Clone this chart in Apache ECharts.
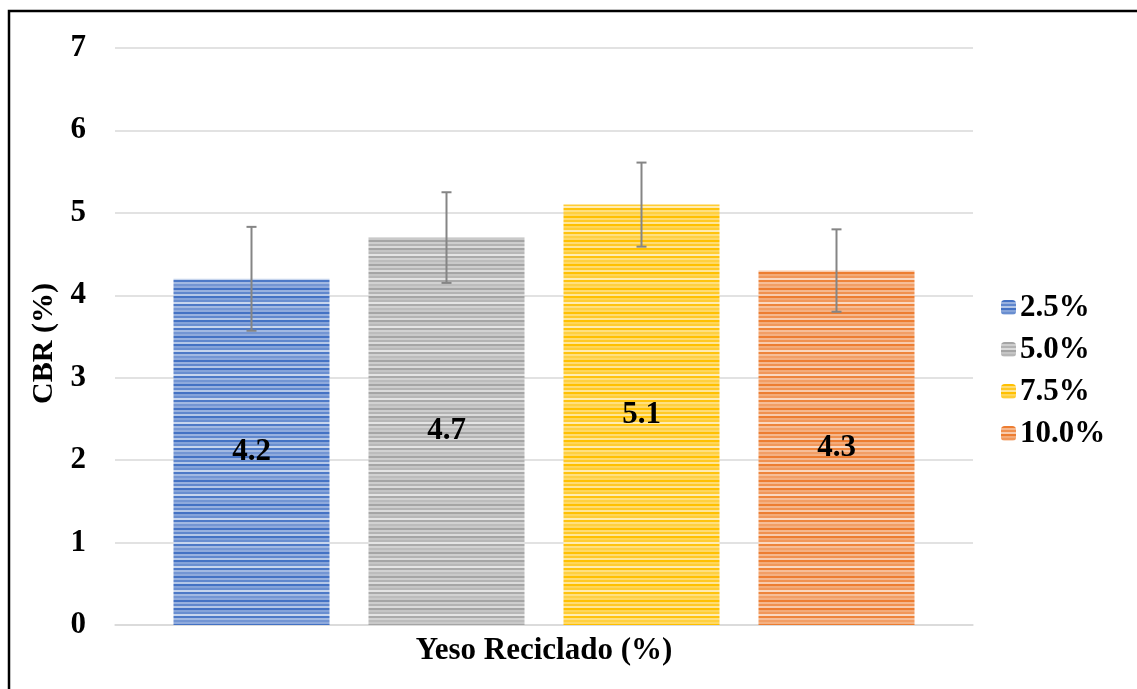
<!DOCTYPE html>
<html>
<head>
<meta charset="utf-8">
<script src="https://cdn.jsdelivr.net/npm/echarts@6/dist/echarts.min.js"></script>
<style>
html,body{margin:0;padding:0;background:#fff;}
#c{width:1137px;height:689px;}
</style>
</head>
<body>
<div id="c"></div>
<script>
const seriesNames = ['2.5%', '5.0%', '7.5%', '10.0%'];
const cbrValues = [4.2, 4.7, 5.1, 4.3];
const errValues = [0.63, 0.55, 0.51, 0.5];
const baseColors = ['#4472C4', '#A5A5A5', '#FFC000', '#ED7D31'];
const yTicks = [0, 1, 2, 3, 4, 5, 6, 7];
const xTitle = 'Yeso Reciclado (%)';
const yTitle = 'CBR (%)';

const FONT = '"Liberation Serif", "Times New Roman", serif';
const FS = 31;
const BAR_W = 156;
const BAR_GAP = 0.25;

function mix(hex, t) {
  const n = parseInt(hex.slice(1), 16);
  const r = (n >> 16) & 255, g = (n >> 8) & 255, b = n & 255;
  const m = c => Math.round(c + (255 - c) * t);
  return 'rgb(' + m(r) + ',' + m(g) + ',' + m(b) + ')';
}
function stripePattern(hex) {
  const cv = document.createElement('canvas');
  const shades = [0, 0.45, 0.15, 0.6, 0, 0.35, 0.2, 0.7, 0.05, 0.5, 0.25, 0.4];
  cv.width = 8; cv.height = shades.length * 2;
  const ctx = cv.getContext('2d');
  shades.forEach((s, i) => { ctx.fillStyle = mix(hex, s); ctx.fillRect(0, i * 2, 8, 2); });
  return { image: cv, repeat: 'repeat' };
}

const chart = echarts.init(document.getElementById('c'), null, { renderer: 'canvas' });

const barSeries = seriesNames.map((name, i) => ({
  name: name,
  type: 'bar',
  data: [cbrValues[i]],
  barWidth: BAR_W,
  barGap: (BAR_GAP * 100) + '%',
  itemStyle: { color: stripePattern(baseColors[i]) },
  label: {
    show: true, position: 'inside',
    fontFamily: FONT, fontWeight: 'bold', fontSize: FS, color: '#000',
    formatter: p => p.value.toFixed(1)
  },
  z: 2
}));

const n = seriesNames.length;
const errSeries = {
  type: 'custom',
  name: 'err',
  data: cbrValues.map((v, i) => [0, v, errValues[i], i]),
  z: 5,
  silent: true,
  renderItem: function (params, api) {
    const v = api.value(1), e = api.value(2), idx = api.value(3);
    const center = api.coord([0, v])[0];
    const gap = BAR_W * BAR_GAP;
    const groupW = n * BAR_W + (n - 1) * gap;
    const x = center - groupW / 2 + idx * (BAR_W + gap) + BAR_W / 2;
    const yTop = api.coord([0, v + e])[1];
    const yBot = api.coord([0, v - e])[1];
    const cap = 5;
    const style = { stroke: '#858585', lineWidth: 2 };
    return {
      type: 'group',
      children: [
        { type: 'line', shape: { x1: x, y1: yTop, x2: x, y2: yBot }, style: style },
        { type: 'line', shape: { x1: x - cap, y1: yTop, x2: x + cap, y2: yTop }, style: style },
        { type: 'line', shape: { x1: x - cap, y1: yBot, x2: x + cap, y2: yBot }, style: style }
      ]
    };
  }
};

chart.setOption({
  animation: false,
  backgroundColor: '#fff',
  graphic: [{
    type: 'rect', shape: { x: 9, y: 11, width: 1140, height: 700 },
    style: { fill: 'none', stroke: '#000', lineWidth: 2.5 }, z: 100
  }],
  grid: { left: 115, right: 164, top: 48, bottom: 64, containLabel: false },
  legend: {
    data: seriesNames,
    orient: 'vertical',
    left: 996, top: 287,
    itemWidth: 15, itemHeight: 15, itemGap: 11,
    textStyle: { fontFamily: FONT, fontWeight: 'bold', fontSize: FS, color: '#000', padding: [0, 0, 0, -1] }
  },
  xAxis: {
    type: 'category',
    data: [''],
    name: xTitle,
    nameLocation: 'middle',
    nameGap: 10,
    nameTextStyle: { fontFamily: FONT, fontWeight: 'bold', fontSize: FS, color: '#000', verticalAlign: 'top' },
    axisLine: { show: true, lineStyle: { color: '#d9d9d9', width: 1.5 } },
    axisTick: { show: false },
    axisLabel: { show: false }
  },
  yAxis: {
    type: 'value',
    min: yTicks[0], max: yTicks[yTicks.length - 1], interval: 1,
    name: yTitle,
    nameLocation: 'middle',
    nameGap: 56,
    nameTextStyle: { fontFamily: FONT, fontWeight: 'bold', fontSize: 30, color: '#000', padding: [0, 14, 0, 0] },
    axisLine: { show: false },
    axisTick: { show: false },
    axisLabel: { fontFamily: FONT, fontWeight: 'bold', fontSize: FS, color: '#000', margin: 29 },
    splitLine: { lineStyle: { color: '#d9d9d9', width: 1.5 } }
  },
  series: barSeries.concat([errSeries])
});
</script>
</body>
</html>
